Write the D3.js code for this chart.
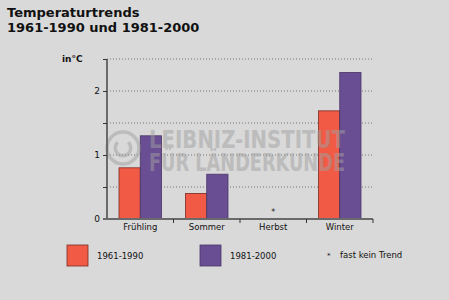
<!DOCTYPE html>
<html>
<head>
<meta charset="utf-8">
<script src="https://cdn.jsdelivr.net/npm/d3@7"></script>
<style>
  body { margin: 0; background: #d9d9d9; }
  svg { display: block; }
</style>
</head>
<body>
<div id="chart"></div>
<script>
// data
var seasons = ["Frühling", "Sommer", "Herbst", "Winter"];
var series = ["1961-1990", "1981-2000"];
var values1961 = [0.8, 0.4, null, 1.69];
var values1981 = [1.3, 0.7, null, 2.29];
var yTickLabels = [0, 1, 2];
var noTrendNote = "fast kein Trend";

var colors = ["#f15a45", "#6a4e93"];
var strokes = ["#7a2b22", "#4a3568"];

var W = 449, H = 300;
var svg = d3.select("#chart").append("svg")
    .attr("width", W)
    .attr("height", H);

svg.append("rect").attr("width", W).attr("height", H).attr("fill", "#d9d9d9");

// title
var title = svg.append("text")
    .style("font-family", "DejaVu Sans")
    .style("font-weight", "bold")
    .style("font-size", "13px")
    .attr("fill", "#111");
title.append("tspan").attr("x", 7).attr("y", 17).text("Temperaturtrends");
title.append("tspan").attr("x", 7).attr("y", 32).text("1961-1990 und 1981-2000");

var plotLeft = 107, plotRight = 373, plotTop = 59, plotBottom = 219;

var x = d3.scaleBand().domain(seasons).range([plotLeft, plotRight]);
var y = d3.scaleLinear().domain([0, 2.5]).range([plotBottom, plotTop]);

// gridlines (dotted)
svg.append("g")
    .selectAll("line")
    .data([0.5, 1, 1.5, 2, 2.5])
    .join("line")
    .attr("x1", plotLeft)
    .attr("x2", plotRight)
    .attr("y1", d => y(d))
    .attr("y2", d => y(d))
    .attr("stroke", "#777")
    .attr("stroke-width", 1)
    .attr("stroke-dasharray", "1,2");

// bars
var inner = d3.scaleBand().domain(series).range([12, x.bandwidth() - 12]);
var rows = seasons.map((s, i) => ({ season: s, vals: [values1961[i], values1981[i]] }));

var groups = svg.append("g")
    .selectAll("g")
    .data(rows)
    .join("g")
    .attr("transform", d => "translate(" + x(d.season) + ",0)");

groups.selectAll("rect")
    .data(d => d.vals.map((v, j) => ({ key: series[j], v: v, j: j })).filter(e => e.v != null))
    .join("rect")
    .attr("x", d => inner(d.key))
    .attr("width", inner.bandwidth())
    .attr("y", d => y(d.v))
    .attr("height", d => plotBottom - y(d.v))
    .attr("fill", d => colors[d.j])
    .attr("stroke", d => strokes[d.j])
    .attr("stroke-width", 0.8);

// watermark (semi-transparent, over the bars)
var wm = svg.append("g").attr("opacity", 0.5);
wm.append("circle")
    .attr("cx", 123).attr("cy", 148).attr("r", 16)
    .attr("fill", "none").attr("stroke", "#a0a0a0").attr("stroke-width", 3.5);
wm.append("path")
    .attr("d", d3.arc()({ innerRadius: 6, outerRadius: 9.5, startAngle: 0.75, endAngle: 2 * Math.PI - 0.75 }))
    .attr("transform", "translate(123,148)")
    .attr("fill", "#a0a0a0");
wm.selectAll("text.wm")
    .data(["LEIBNIZ-INSTITUT", "FÜR LÄNDERKUNDE"])
    .join("text")
    .attr("class", "wm")
    .attr("x", 149)
    .attr("y", (d, i) => 148 + i * 23)
    .attr("textLength", 196)
    .attr("lengthAdjust", "spacingAndGlyphs")
    .style("font-family", "DejaVu Sans")
    .style("font-weight", "bold")
    .style("font-stretch", "condensed")
    .style("font-size", "25px")
    .attr("fill", "#a0a0a0")
    .text(d => d);

// asterisk for no trend
groups.filter(d => d.vals[0] == null)
    .append("text")
    .attr("x", x.bandwidth() / 2)
    .attr("y", 215)
    .attr("text-anchor", "middle")
    .style("font-family", "DejaVu Sans")
    .style("font-size", "8px")
    .attr("fill", "#222")
    .text("*");

// y axis
var yAxis = svg.append("g")
    .attr("transform", "translate(" + plotLeft + ",0)")
    .call(d3.axisLeft(y).tickValues([0, 0.5, 1, 1.5, 2, 2.5]).tickSize(4)
        .tickFormat(d => yTickLabels.indexOf(d) >= 0 ? d : ""));
yAxis.select(".domain").attr("stroke", "#6a6a6a").attr("stroke-width", 2)
    .attr("d", "M0," + plotBottom + "V" + plotTop);
yAxis.selectAll(".tick line").attr("stroke", "#333");
yAxis.selectAll(".tick text")
    .attr("x", -7)
    .style("font-family", "DejaVu Sans")
    .style("font-size", "9px")
    .attr("fill", "#111");

svg.append("text")
    .attr("x", 62)
    .attr("y", 62)
    .style("font-family", "DejaVu Sans")
    .style("font-weight", "bold")
    .style("font-size", "9px")
    .attr("fill", "#111")
    .text("in°C");

// x axis
var xAxis = svg.append("g")
    .attr("transform", "translate(0," + plotBottom + ")")
    .call(d3.axisBottom(x).tickSize(0).tickPadding(5));
xAxis.select(".domain").attr("stroke", "#6a6a6a").attr("stroke-width", 2)
    .attr("d", "M" + (plotLeft - 4) + ",0H" + plotRight);
xAxis.selectAll(".tick text")
    .style("font-family", "DejaVu Sans")
    .style("font-size", "8.5px")
    .attr("fill", "#111");
// category separators
svg.append("g")
    .selectAll("line")
    .data(seasons)
    .join("line")
    .attr("x1", d => x(d) + x.bandwidth())
    .attr("x2", d => x(d) + x.bandwidth())
    .attr("y1", plotBottom)
    .attr("y2", plotBottom + 4)
    .attr("stroke", "#333");

// legend
var legendItems = [
    { label: series[0], color: colors[0], stroke: strokes[0], x: 67 },
    { label: series[1], color: colors[1], stroke: strokes[1], x: 200 }
];
var lg = svg.append("g")
    .selectAll("g")
    .data(legendItems)
    .join("g")
    .attr("transform", d => "translate(" + d.x + ",245)");
lg.append("rect")
    .attr("width", 21).attr("height", 21)
    .attr("fill", d => d.color)
    .attr("stroke", d => d.stroke)
    .attr("stroke-width", 0.8);
lg.append("text")
    .attr("x", 30).attr("y", 14)
    .style("font-family", "DejaVu Sans")
    .style("font-size", "8.5px")
    .attr("fill", "#111")
    .text(d => d.label);

svg.append("text")
    .attr("x", 327).attr("y", 258)
    .style("font-family", "DejaVu Sans")
    .style("font-size", "7px")
    .attr("fill", "#111")
    .text("*");
svg.append("text")
    .attr("x", 340).attr("y", 258)
    .style("font-family", "DejaVu Sans")
    .style("font-size", "8.5px")
    .attr("fill", "#111")
    .text(noTrendNote);
</script>
</body>
</html>
